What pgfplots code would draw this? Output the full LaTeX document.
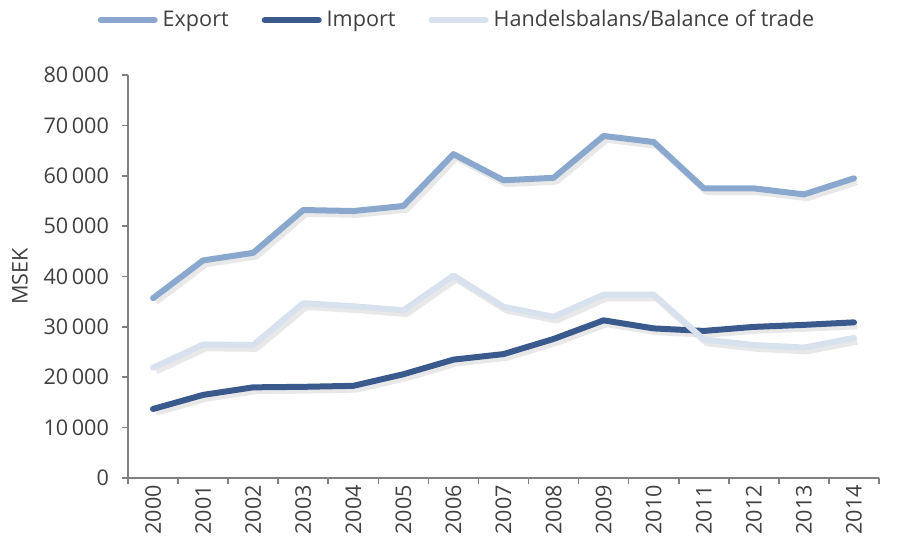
\documentclass[border=0pt]{standalone}
\usepackage{pgfplots}
\pgfplotsset{compat=1.18}
\usepackage{fontspec}
\setmainfont{Open Sans}
\definecolor{expc}{RGB}{138,168,206}
\definecolor{impc}{RGB}{58,90,142}
\definecolor{balc}{RGB}{216,226,239}
\definecolor{txt}{RGB}{64,64,64}
\definecolor{axc}{RGB}{128,128,128}
\begin{document}
\begin{tikzpicture}
\useasboundingbox (-64pt,-32.5pt) rectangle (387.5pt,239pt);
\begin{axis}[
  scale only axis,
  width=375.5pt, height=201.5pt,
  at={(0,0)}, anchor=south west,
  xmin=-0.5, xmax=14.5,
  ymin=0, ymax=80000,
  ytick={0,10000,...,80000},
  axis x line*=bottom, axis y line*=left,
  axis line style={draw=axc, line width=0.8pt},
  tick style={draw=axc, line width=0.8pt},
  tick align=outside,
  major tick length=3pt,
  xtick={-0.5,0.5,...,14.5},
  xticklabels={},
  extra x ticks={0,1,...,14},
  extra x tick labels={2000,2001,2002,2003,2004,2005,2006,2007,2008,2009,2010,2011,2012,2013,2014},
  extra x tick style={major tick length=0pt, tick style={draw=none}},
  xticklabel style={rotate=90, anchor=east, font=\fontsize{10.8}{12}\selectfont, text=txt},
  yticklabel style={font=\fontsize{10.8}{12}\selectfont, text=txt, xshift=-3pt},
  /pgf/number format/assume math mode=true,
  /pgf/number format/1000 sep={\,},
  scaled y ticks=false,
  ylabel={MSEK},
  every axis y label/.style={at={(-54pt,0.5)}, rotate=90, anchor=center, font=\fontsize{10.8}{12}\selectfont, text=txt},
  clip=false,
  legend style={at={(0.44,1.136)}, anchor=center, draw=none, fill=none,
    font=\fontsize{10.8}{12}\selectfont, text=txt, legend columns=3,
    /tikz/every even column/.append style={column sep=14pt},
    legend cell align=left, inner sep=0pt,
    nodes={inner xsep=2.5pt}},
  legend image code/.code={\draw[#1, line width=3pt, line cap=round] (0pt,0pt) -- (27pt,0pt);},
]
% shadows
\addplot[forget plot, draw=gray, opacity=0.18, line width=3.2pt, line join=round, transform canvas={xshift=1.5pt, yshift=-1.8pt}] coordinates {
(0,35700)(1,43200)(2,44700)(3,53200)(4,53000)(5,54000)(6,64300)(7,59100)(8,59600)(9,67900)(10,66700)(11,57500)(12,57500)(13,56300)(14,59500)};
\addplot[forget plot, draw=gray, opacity=0.18, line width=3.2pt, line join=round, transform canvas={xshift=1.5pt, yshift=-1.8pt}] coordinates {
(0,13700)(1,16500)(2,18000)(3,18100)(4,18300)(5,20600)(6,23500)(7,24600)(8,27600)(9,31300)(10,29700)(11,29200)(12,30000)(13,30400)(14,30900)};
\addplot[forget plot, draw=gray, opacity=0.18, line width=3.2pt, line join=round, transform canvas={xshift=1.5pt, yshift=-1.8pt}] coordinates {
(0,21900)(1,26500)(2,26400)(3,34700)(4,34100)(5,33300)(6,40200)(7,34000)(8,32000)(9,36400)(10,36400)(11,27500)(12,26400)(13,25900)(14,27800)};
% lines
\addplot[draw=expc, line width=3pt, line join=round, line cap=round] coordinates {
(0,35700)(1,43200)(2,44700)(3,53200)(4,53000)(5,54000)(6,64300)(7,59100)(8,59600)(9,67900)(10,66700)(11,57500)(12,57500)(13,56300)(14,59500)};
\addlegendentry{Export}
\addplot[draw=impc, line width=3pt, line join=round, line cap=round] coordinates {
(0,13700)(1,16500)(2,18000)(3,18100)(4,18300)(5,20600)(6,23500)(7,24600)(8,27600)(9,31300)(10,29700)(11,29200)(12,30000)(13,30400)(14,30900)};
\addlegendentry{Import}
\addplot[draw=balc, line width=3pt, line join=round, line cap=round] coordinates {
(0,21900)(1,26500)(2,26400)(3,34700)(4,34100)(5,33300)(6,40200)(7,34000)(8,32000)(9,36400)(10,36400)(11,27500)(12,26400)(13,25900)(14,27800)};
\addlegendentry{Handelsbalans/Balance of trade}
\end{axis}
\end{tikzpicture}
\end{document}
